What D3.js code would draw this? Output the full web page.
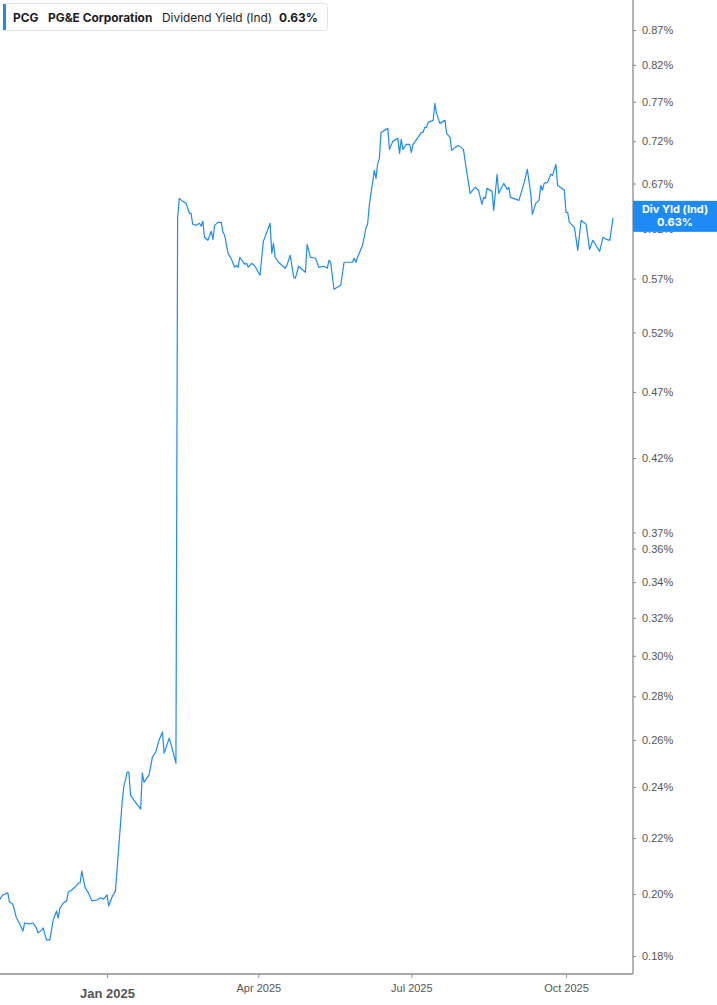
<!DOCTYPE html>
<html>
<head>
<meta charset="utf-8">
<script src="https://cdn.jsdelivr.net/npm/d3@7"></script>
<style>
  html, body { margin: 0; padding: 0; background: #fff; }
  svg { display: block; font-family: Inter, "Noto Sans", sans-serif; }
</style>
</head>
<body>
<div id="chart"></div>
<script>
// dates and dividend yield (%)
const DATES = [
  "2024-10-29","2024-10-31","2024-11-03","2024-11-04","2024-11-06","2024-11-08","2024-11-11","2024-11-12",
  "2024-11-13","2024-11-16","2024-11-18","2024-11-20","2024-11-21","2024-11-23","2024-11-24","2024-11-26",
  "2024-11-28","2024-11-30","2024-12-02","2024-12-03","2024-12-04","2024-12-06","2024-12-08","2024-12-09",
  "2024-12-11","2024-12-13","2024-12-15","2024-12-16","2024-12-17","2024-12-19","2024-12-21","2024-12-23",
  "2024-12-26","2024-12-28","2024-12-30","2025-01-01","2025-01-02","2025-01-04","2025-01-06","2025-01-08",
  "2025-01-10","2025-01-11","2025-01-13","2025-01-14","2025-01-15","2025-01-17","2025-01-21","2025-01-22",
  "2025-01-23","2025-01-26","2025-01-28","2025-01-30","2025-02-01","2025-02-03","2025-02-04","2025-02-07",
  "2025-02-09","2025-02-11","2025-02-12","2025-02-13","2025-02-15","2025-02-17","2025-02-19","2025-02-20",
  "2025-02-21","2025-02-23","2025-02-25","2025-02-26","2025-02-27","2025-02-28","2025-03-02","2025-03-04",
  "2025-03-05","2025-03-06","2025-03-08","2025-03-10","2025-03-11","2025-03-12","2025-03-14","2025-03-16",
  "2025-03-18","2025-03-19","2025-03-20","2025-03-21","2025-03-23","2025-03-24","2025-03-25","2025-03-26",
  "2025-03-28","2025-03-30","2025-04-01","2025-04-02","2025-04-04","2025-04-06","2025-04-08","2025-04-09",
  "2025-04-10","2025-04-11","2025-04-13","2025-04-17","2025-04-18","2025-04-20","2025-04-22","2025-04-23",
  "2025-04-25","2025-04-29","2025-04-30","2025-05-02","2025-05-05","2025-05-07","2025-05-10","2025-05-12",
  "2025-05-13","2025-05-14","2025-05-16","2025-05-18","2025-05-20","2025-05-22","2025-05-24","2025-05-27",
  "2025-05-28","2025-05-29","2025-05-30","2025-06-02","2025-06-04","2025-06-05","2025-06-06","2025-06-09",
  "2025-06-10","2025-06-11","2025-06-12","2025-06-13","2025-06-15","2025-06-17","2025-06-18","2025-06-20",
  "2025-06-23","2025-06-24","2025-06-25","2025-06-26","2025-06-28","2025-06-30","2025-07-01","2025-07-02",
  "2025-07-05","2025-07-07","2025-07-08","2025-07-09","2025-07-10","2025-07-11","2025-07-14","2025-07-15",
  "2025-07-16","2025-07-18","2025-07-21","2025-07-22","2025-07-24","2025-07-25","2025-07-27","2025-07-29",
  "2025-08-01","2025-08-03","2025-08-05","2025-08-08","2025-08-10","2025-08-12","2025-08-13","2025-08-14",
  "2025-08-15","2025-08-18","2025-08-19","2025-08-21","2025-08-22","2025-08-25","2025-08-27","2025-08-28",
  "2025-08-29","2025-09-03","2025-09-06","2025-09-08","2025-09-10","2025-09-11","2025-09-13","2025-09-15",
  "2025-09-16","2025-09-17","2025-09-18","2025-09-20","2025-09-22","2025-09-23","2025-09-25","2025-09-26",
  "2025-09-30","2025-10-01","2025-10-02","2025-10-03","2025-10-06","2025-10-08","2025-10-10","2025-10-13",
  "2025-10-15","2025-10-17","2025-10-21","2025-10-23","2025-10-25","2025-10-27","2025-10-29"
];

const YIELDS = [
  0.1980,0.1997,0.2004,0.1973,0.1966,0.1923,0.1891,0.1878,
  0.1904,0.1901,0.1904,0.1888,0.1872,0.1881,0.1888,0.1850,
  0.1850,0.1914,0.1943,0.1920,0.1953,0.1970,0.1977,0.2007,
  0.2014,0.2024,0.2038,0.2038,0.2080,0.2021,0.2004,0.1977,
  0.1980,0.1987,0.1983,0.1997,0.1960,0.1990,0.2010,0.2166,
  0.2339,0.2400,0.2461,0.2461,0.2367,0.2347,0.2311,0.2457,
  0.2420,0.2449,0.2525,0.2547,0.2599,0.2635,0.2542,0.2608,
  0.2555,0.2499,0.6315,0.6533,0.6500,0.6478,0.6369,0.6369,
  0.6251,0.6240,0.6262,0.6230,0.6283,0.6114,0.6083,0.6177,
  0.6093,0.6240,0.6272,0.6272,0.6166,0.6135,0.5950,0.5890,
  0.5810,0.5829,0.5810,0.5910,0.5860,0.5840,0.5850,0.5810,
  0.5850,0.5820,0.5761,0.5732,0.6072,0.6166,0.6262,0.5950,
  0.6052,0.5910,0.5860,0.5800,0.5829,0.5930,0.5713,0.5703,
  0.5820,0.5761,0.6042,0.5910,0.5900,0.5810,0.5820,0.5800,
  0.5880,0.5860,0.5597,0.5616,0.5635,0.5860,0.5860,0.5860,
  0.5900,0.5860,0.5910,0.6031,0.6209,0.6251,0.6456,0.6852,
  0.6759,0.6934,0.6993,0.7309,0.7334,0.7359,0.7101,0.7198,
  0.7235,0.7053,0.7223,0.7101,0.7161,0.7161,0.7065,0.7161,
  0.7248,0.7309,0.7309,0.7372,0.7372,0.7435,0.7460,0.7679,
  0.7549,0.7422,0.7460,0.7296,0.7248,0.7089,0.7125,0.7149,
  0.7101,0.6829,0.6589,0.6657,0.6623,0.6467,0.6544,0.6533,
  0.6645,0.6611,0.6401,0.6806,0.6589,0.6702,0.6634,0.6657,
  0.6544,0.6511,0.6702,0.6864,0.6589,0.6358,0.6478,0.6511,
  0.6680,0.6623,0.6702,0.6713,0.6806,0.6794,0.6922,0.6680,
  0.6623,0.6380,0.6380,0.6272,0.6219,0.5980,0.6293,0.6251,
  0.5990,0.6083,0.5970,0.6114,0.6093,0.6083,0.6320
];

const Y_TICKS = [0.18,0.20,0.22,0.24,0.26,0.28,0.30,0.32,0.34,0.36,0.37,0.42,0.47,0.52,0.57,0.62,0.67,0.72,0.77,0.82,0.87];
const X_TICKS = ["2025-01-01","2025-04-01","2025-07-01","2025-10-01"];
const X_TICK_LABELS = ["Jan 2025","Apr 2025","Jul 2025","Oct 2025"];

const TICKER = "PCG";
const COMPANY = "PG&E Corporation";
const METRIC = "Dividend Yield (Ind)";
const LAST_LABEL = "Div Yld (Ind)";

const W = 717, H = 1005;
const PLOT_RIGHT = 633, PLOT_BOTTOM = 974;
const BLUE = "#1e8bf5";

const parse = d3.utcParse("%Y-%m-%d");
const data = DATES.map((d, i) => ({date: parse(d), value: YIELDS[i]}));
const last = data[data.length - 1];

const svg = d3.select("#chart")
    .append("svg")
        .attr("width", W)
        .attr("height", H)
        .attr("viewBox", `0 0 ${W} ${H}`);

const x = d3.scaleUtc()
    .domain([parse("2025-01-01"), parse("2025-10-01")])
    .range([107, 566]);

const y = d3.scaleLog()
    .domain([0.18, 0.87])
    .range([956, 30]);

svg.append("defs").append("clipPath")
    .attr("id", "plot-clip")
    .append("rect")
        .attr("x", 0).attr("y", 0)
        .attr("width", PLOT_RIGHT).attr("height", PLOT_BOTTOM);

// the yield line
const line = d3.line()
    .x(d => x(d.date))
    .y(d => y(d.value));

svg.append("path")
    .datum(data)
    .attr("clip-path", "url(#plot-clip)")
    .attr("fill", "none")
    .attr("stroke", BLUE)
    .attr("stroke-width", 1.2)
    .attr("stroke-linejoin", "round")
    .attr("d", line);

// right axis
const yAxis = d3.axisRight(y)
    .tickValues(Y_TICKS)
    .tickSize(3)
    .tickPadding(6)
    .tickFormat(d => d.toFixed(2) + "%");

const yG = svg.append("g")
    .attr("transform", `translate(${PLOT_RIGHT},0)`)
    .call(yAxis);

yG.select(".domain")
    .attr("d", `M0,0V${PLOT_BOTTOM}`)
    .attr("stroke", "#9a9a9a")
    .attr("stroke-width", 1.5);
yG.selectAll(".tick line").attr("stroke", "#888");
yG.selectAll(".tick text")
    .attr("fill", "#555")
    .style("font-size", "11px");

// bottom axis
const xAxis = d3.axisBottom(x)
    .tickValues(X_TICKS.map(parse))
    .tickSize(4)
    .tickPadding(6)
    .tickFormat((d, i) => X_TICK_LABELS[i]);

const xG = svg.append("g")
    .attr("transform", `translate(0,${PLOT_BOTTOM})`)
    .call(xAxis);

xG.select(".domain")
    .attr("d", `M0,0H${PLOT_RIGHT}`)
    .attr("stroke", "#aaa")
    .attr("stroke-width", 2);
xG.selectAll(".tick line").attr("stroke", "#999");
xG.selectAll(".tick text")
    .attr("fill", "#555")
    .style("font-size", (d, i) => i === 0 ? "13px" : "11px")
    .style("font-weight", (d, i) => i === 0 ? "700" : "400")
    .attr("dy", (d, i) => i === 0 ? "1.05em" : "0.71em");

// last value tag on the axis (covers the 0.62% tick, as in the original)
const tagY = y(last.value);
const tag = svg.append("g").attr("transform", `translate(${PLOT_RIGHT},${tagY})`);
tag.append("rect")
    .attr("x", 0).attr("y", -17)
    .attr("width", W - PLOT_RIGHT).attr("height", 31)
    .attr("fill", BLUE);
tag.append("text")
    .attr("x", (W - PLOT_RIGHT) / 2).attr("y", -5)
    .attr("text-anchor", "middle")
    .attr("fill", "#fff")
    .style("font-size", "11px")
    .style("font-weight", "700")
    .text(LAST_LABEL);
tag.append("text")
    .attr("x", (W - PLOT_RIGHT) / 2).attr("y", 8)
    .attr("text-anchor", "middle")
    .attr("fill", "#fff")
    .style("font-size", "11px")
    .style("font-weight", "700")
    .text(last.value.toFixed(2) + "%");

// legend box
const legend = svg.append("g");
legend.append("rect")
    .attr("x", 3.5).attr("y", 3.5)
    .attr("width", 324).attr("height", 27)
    .attr("rx", 3)
    .attr("fill", "#fff")
    .attr("stroke", "#e4e4e4");
legend.append("rect")
    .attr("x", 3).attr("y", 4)
    .attr("width", 3).attr("height", 26)
    .attr("fill", BLUE);

const legendItems = [
    {text: TICKER, x: 13, weight: 700},
    {text: COMPANY, x: 48, weight: 700},
    {text: METRIC, x: 162, weight: 400},
    {text: last.value.toFixed(2) + "%", x: 279, weight: 700}
];
legend.selectAll("text.item")
    .data(legendItems)
    .enter()
    .append("text")
        .attr("class", "item")
        .attr("x", d => d.x)
        .attr("y", 21.5)
        .attr("fill", "#1d1d1d")
        .style("font-size", "11.9px")
        .style("font-weight", d => d.weight)
        .text(d => d.text);
</script>
</body>
</html>
